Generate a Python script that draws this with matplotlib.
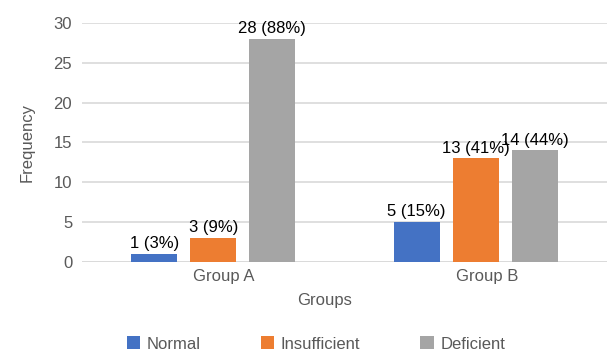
import matplotlib
matplotlib.use("Agg")
import matplotlib.pyplot as plt
import matplotlib.transforms as mtransforms
import numpy as np
from matplotlib.patches import Patch

plt.rcParams['font.family'] = ['Liberation Sans', 'DejaVu Sans']

groups = ['Group A', 'Group B']
series = ['Normal', 'Insufficient', 'Deficient']
counts = {
    'Normal': [1, 5],
    'Insufficient': [3, 13],
    'Deficient': [28, 14],
}
percents = {
    'Normal': [3, 15],
    'Insufficient': [9, 41],
    'Deficient': [88, 44],
}
colors = ['#4472C4', '#ED7D31', '#A5A5A5']

fs = 12
fig = plt.figure(figsize=(6.07, 3.53), dpi=100)
ax = fig.add_axes([0.135, 0.258, 0.865, 0.677])

x = np.arange(len(groups))
width = 0.175
step = 0.225
for i, (name, col) in enumerate(zip(series, colors)):
    pos = x + (i - 1) * step
    bars = ax.bar(pos, counts[name], width=width, color=col, zorder=3)
    for b, c, p in zip(bars, counts[name], percents[name]):
        ax.text(b.get_x() + b.get_width() / 2, c + 0.35, f'{c} ({p}%)',
                ha='center', va='bottom', fontsize=fs, color='black')

ax.set_xlim(-0.5, 1.5)
ax.set_ylim(0, 30)
ax.set_yticks(np.arange(0, 31, 5))
ax.yaxis.grid(True, color='#d9d9d9', linewidth=1.2, zorder=0)
ax.set_axisbelow(True)
for s in ax.spines.values():
    s.set_visible(False)
ax.axhline(0, color='#d9d9d9', linewidth=1.2, zorder=1)
ax.tick_params(axis='both', length=0, labelsize=fs, labelcolor='#595959')
ax.tick_params(axis='y', pad=7)
ax.tick_params(axis='x', pad=5)
ax.set_xticks(x)
ax.set_xticklabels(groups)
shift = mtransforms.ScaledTranslation(0.11, 0, fig.dpi_scale_trans)
for lbl in ax.get_xticklabels():
    lbl.set_transform(lbl.get_transform() + shift)

ax.set_ylabel('Frequency', fontsize=fs, color='#595959', labelpad=14)
fig.text(325 / 607, 1 - 300 / 353, 'Groups', ha='center', va='center',
         fontsize=fs, color='#595959')

handles = [Patch(facecolor=c, label=n) for n, c in zip(series, colors)]
leg = fig.legend(handles=handles, loc='center', ncol=3,
                 bbox_to_anchor=(316 / 607, 1 - 344 / 353), frameon=False,
                 fontsize=fs, handlelength=0.8, handleheight=0.8,
                 handletextpad=0.4, columnspacing=3.6)
for t in leg.get_texts():
    t.set_color('#595959')

fig.savefig('out.png', dpi=100)
